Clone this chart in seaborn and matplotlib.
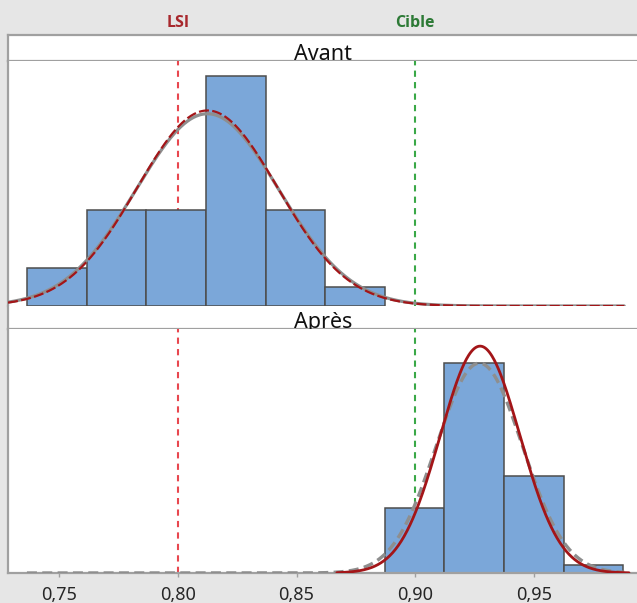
import numpy as np
import pandas as pd
import matplotlib
matplotlib.use("Agg")
import matplotlib.pyplot as plt
import matplotlib.transforms as mtransforms
import seaborn as sns

# ---------------- data ----------------
panels = ["Avant", "Après"]
avant_edges = [0.7365, 0.7616, 0.7867, 0.8118, 0.8370, 0.8621, 0.8872]
avant_counts = [2, 5, 5, 12, 5, 1]
apres_edges = [0.8872, 0.9123, 0.9374, 0.9625, 0.9876]
apres_counts = [8, 26, 12, 1]

# fitted normal curves (mean, sd)
avant_within = (0.8125, 0.0295)   # red dashed
avant_overall = (0.8125, 0.0300)  # gray solid
apres_within = (0.9273, 0.01676)  # red solid
apres_overall = (0.9270, 0.01812) # gray dashed

lsi_value = 0.80
cible_value = 0.90
ref_labels = ["LSI", "Cible"]

tick_values = [0.75, 0.80, 0.85, 0.90, 0.95]
tick_labels = ["0,75", "0,80", "0,85", "0,90", "0,95"]

# ---------------- style ----------------
sns.set_style("white")
plt.rcParams["font.family"] = ["Noto Sans", "DejaVu Sans"]

W, H = 637, 603
fig = plt.figure(figsize=(W / 100, H / 100), dpi=100, facecolor="#e6e6e6")

frame_col = "#a0a0a0"
bar_col = "#7ba7d9"
bar_edge = "#4d4d4d"
red_curve = "#a31518"
gray_curve = "#8e8e8e"
lsi_col = "#e8474f"
cible_col = "#3aa847"

def fy(px):
    return 1 - px / H

left = 8 / W
width = 630 / W
xlim = (0.75 + (8 - 59) / 2375, 0.75 + (638 - 59) / 2375)

def make_strip(top_px, bot_px, label, top_spine):
    ax = fig.add_axes([left, fy(bot_px), width, (bot_px - top_px) / H])
    ax.set_facecolor("white")
    ax.set_xticks([]); ax.set_yticks([])
    ax.spines["right"].set_visible(False)
    ax.spines["top"].set_visible(top_spine)
    for s in ["left", "top", "bottom"]:
        ax.spines[s].set_color(frame_col)
        ax.spines[s].set_linewidth(1.6)
    ax.text(0.5, 1.0 / (bot_px - top_px), label, ha="center", va="baseline",
            fontsize=15.5, color="#111111", transform=ax.transAxes)
    return ax

def make_panel(top_px, bot_px, ylim, bottom_spine):
    ax = fig.add_axes([left, fy(bot_px), width, (bot_px - top_px) / H])
    ax.set_facecolor("white")
    ax.set_xlim(*xlim)
    ax.set_ylim(0, ylim)
    ax.set_yticks([])
    ax.spines["right"].set_visible(False)
    ax.spines["top"].set_visible(False)
    ax.spines["bottom"].set_visible(bottom_spine)
    for s in ["left", "bottom"]:
        ax.spines[s].set_color(frame_col)
        ax.spines[s].set_linewidth(1.6)
    return ax

strip1 = make_strip(35, 61, panels[0], True)
ax1 = make_panel(61, 306, 12.76, False)
strip2 = make_strip(306, 329, panels[1], False)
ax2 = make_panel(329, 573, 30.2, True)

def draw_hist(ax, edges, counts, ylim):
    e = np.array(edges)
    centers = (e[:-1] + e[1:]) / 2
    df = pd.DataFrame({"x": centers, "n": counts})
    sns.histplot(data=df, x="x", weights="n", bins=list(edges), ax=ax,
                 color=bar_col, edgecolor=bar_edge, linewidth=1.1, alpha=1,
                 zorder=2)
    ax.set_xlabel(""); ax.set_ylabel("")
    ax.set_xlim(*xlim)
    ax.set_ylim(0, ylim)
    ax.set_yticks([])

def normal_counts(x, mean, sd, n, bw):
    return n * bw / (sd * np.sqrt(2 * np.pi)) * np.exp(-0.5 * ((x - mean) / sd) ** 2)

draw_hist(ax1, avant_edges, avant_counts, 12.76)
draw_hist(ax2, apres_edges, apres_counts, 30.2)

bw = avant_edges[1] - avant_edges[0]
n1 = sum(avant_counts)
n2 = sum(apres_counts)

x1 = np.linspace(xlim[0], 0.988, 600)
ax1.plot(x1, normal_counts(x1, *avant_overall, n1, bw), color=gray_curve, lw=2.3,
         zorder=3, solid_capstyle="round")
ax1.plot(x1, normal_counts(x1, *avant_within, n1, bw), color=red_curve, lw=1.6,
         dashes=(4.5, 1.5), zorder=4)

x2g = np.linspace(0.7365, 0.988, 600)
x2r = np.linspace(0.867, 0.99, 400)
ax2.plot(x2g, normal_counts(x2g, *apres_overall, n2, bw), color=gray_curve, lw=2.4,
         dashes=(3.0, 1.6), zorder=3)
ax2.plot(x2r, normal_counts(x2r, *apres_within, n2, bw), color=red_curve, lw=2.0,
         zorder=4)

for ax in (ax1, ax2):
    ax.axvline(lsi_value, color=lsi_col, lw=1.5, dashes=(3, 2.5), zorder=1)
    ax.axvline(cible_value, color=cible_col, lw=1.5, dashes=(3, 2.5), zorder=1)

ax1.set_xticks([])
ax2.set_xticks(tick_values)
ax2.set_xticklabels(tick_labels)
ax2.tick_params(axis="x", direction="out", length=3, width=1, color=frame_col,
                labelsize=13, labelcolor="#262626", pad=6, bottom=True)

trans = mtransforms.blended_transform_factory(ax1.transData, fig.transFigure)
fig.text(lsi_value, fy(23), ref_labels[0], transform=trans, ha="center", va="center",
         fontsize=11.5, fontweight="bold", color="#a8282d",
         family=["Open Sans", "DejaVu Sans"])
fig.text(cible_value, fy(23), ref_labels[1], transform=trans, ha="center", va="center",
         fontsize=11.5, fontweight="bold", color="#2d7a36",
         family=["Open Sans", "DejaVu Sans"])

fig.savefig("out.png", dpi=100, facecolor=fig.get_facecolor())
